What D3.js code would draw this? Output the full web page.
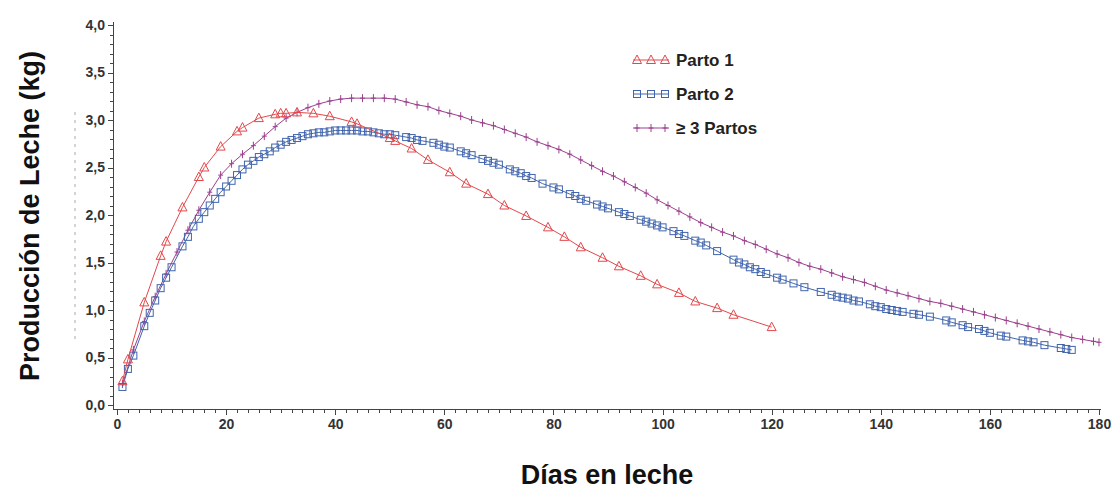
<!DOCTYPE html>
<meta charset="utf-8">
<style>
body { margin: 0; background: #fff; }
svg { font-family: "Liberation Sans", Arial, sans-serif; }
.axis text { font-size: 14px; font-weight: bold; fill: #333; }
.axis path, .axis line { fill: none; stroke: #444; shape-rendering: crispEdges; }
.title { font-weight: bold; font-size: 27px; fill: #111; }
.legend text { font-size: 17px; font-weight: bold; fill: #222; }
</style>
<body>
<script src="https://cdn.jsdelivr.net/npm/d3@7"></script>
<script>
// Parto 1 (red, triangles)
var diasP1 = [1,2,5,8,9,12,15,16,19,22,23,26,29,30,31,33,36,39,43,44,50,51,54,57,61,64,68,71,75,79,82,85,89,92,96,99,103,106,110,113,120];
var lecheP1 = [0.25,0.48,1.08,1.57,1.72,2.08,2.40,2.50,2.72,2.88,2.92,3.02,3.06,3.07,3.07,3.08,3.07,3.04,2.98,2.96,2.81,2.78,2.70,2.58,2.45,2.33,2.22,2.10,1.99,1.87,1.77,1.66,1.55,1.46,1.36,1.27,1.18,1.09,1.02,0.95,0.82];

// Parto 2 (blue, squares)
var diasP2 = [1,2,3,5,6,7,8,9,10,12,13,14,15,16,17,18,19,20,21,22,23,24,25,26,27,28,29,30,31,32,33,34,35,36,37,38,39,40,41,42,43,44,45,46,47,48,49,50,51,53,54,55,56,58,59,60,61,63,64,65,67,68,69,70,72,73,74,75,76,78,80,81,83,84,85,86,88,89,90,92,93,94,96,97,98,99,100,102,103,104,106,107,108,110,113,114,115,116,117,118,119,121,122,124,126,129,131,132,133,134,135,136,138,139,140,141,142,143,144,146,147,149,152,153,155,156,158,159,160,162,163,166,167,168,170,173,174,175];
var lecheP2 = [0.19,0.38,0.52,0.83,0.97,1.10,1.23,1.34,1.45,1.67,1.77,1.88,1.96,2.03,2.10,2.17,2.24,2.30,2.36,2.42,2.48,2.53,2.57,2.61,2.64,2.67,2.71,2.74,2.77,2.79,2.81,2.83,2.85,2.86,2.87,2.87,2.88,2.89,2.89,2.89,2.89,2.89,2.88,2.88,2.87,2.86,2.85,2.85,2.84,2.82,2.81,2.79,2.78,2.76,2.74,2.72,2.71,2.67,2.65,2.63,2.59,2.57,2.55,2.53,2.48,2.46,2.44,2.41,2.39,2.33,2.29,2.27,2.22,2.20,2.17,2.15,2.11,2.09,2.07,2.03,2.01,1.99,1.95,1.93,1.91,1.89,1.87,1.83,1.80,1.78,1.73,1.71,1.68,1.62,1.53,1.50,1.48,1.45,1.43,1.40,1.38,1.34,1.32,1.28,1.24,1.19,1.16,1.14,1.13,1.12,1.10,1.09,1.06,1.04,1.03,1.01,1.00,0.99,0.98,0.96,0.95,0.93,0.89,0.87,0.84,0.82,0.80,0.78,0.76,0.73,0.72,0.68,0.67,0.66,0.63,0.60,0.59,0.58];

// >= 3 Partos (purple, plus)
var diasP3 = [1,3,5,7,9,11,13,15,17,19,21,23,25,27,29,31,33,35,37,39,41,43,45,47,49,51,53,55,57,59,61,63,65,67,69,71,73,75,77,79,81,83,85,87,89,91,93,95,97,99,101,103,105,107,109,111,113,115,117,119,121,123,125,127,129,131,133,135,137,139,141,143,145,147,149,151,153,155,157,159,161,163,165,167,169,171,173,175,177,179,180];
var lecheP3 = [0.22,0.58,0.88,1.14,1.38,1.61,1.84,2.05,2.24,2.42,2.54,2.64,2.73,2.83,2.93,3.02,3.08,3.13,3.17,3.20,3.22,3.23,3.23,3.23,3.23,3.22,3.19,3.16,3.14,3.10,3.07,3.04,3.00,2.97,2.94,2.90,2.86,2.82,2.77,2.73,2.69,2.64,2.58,2.52,2.46,2.41,2.35,2.29,2.23,2.16,2.10,2.04,1.98,1.92,1.87,1.82,1.78,1.73,1.69,1.64,1.59,1.55,1.50,1.46,1.43,1.39,1.35,1.32,1.29,1.25,1.21,1.18,1.15,1.12,1.09,1.07,1.04,1.01,0.98,0.95,0.92,0.89,0.86,0.83,0.80,0.77,0.74,0.71,0.69,0.67,0.66];

var xTicks = [0,20,40,60,80,100,120,140,160,180];
var yTicks = [0,0.5,1,1.5,2,2.5,3,3.5,4];

var W = 1117, H = 491;
var svg = d3.select("body").append("svg").attr("width", W).attr("height", H);

var x = d3.scaleLinear().domain([0, 180]).range([117, 1099]);
var y = d3.scaleLinear().domain([0, 4]).range([405, 25]);

var fmt = function(d) { return d3.format(".1f")(d).replace(".", ","); };

// faint dashed scan mark left of the axis
svg.append("line").attr("x1", 75).attr("x2", 75).attr("y1", 112).attr("y2", 340)
  .attr("stroke", "#aaa").attr("stroke-dasharray", "3,5").attr("stroke-width", 1);

// y axis
var yAxis = svg.append("g").attr("class", "axis y").attr("transform", "translate(113,0)");
yAxis.call(d3.axisLeft(y).tickValues(d3.range(0, 4.001, 0.1)).tickSize(3).tickFormat(""));
yAxis.selectAll(".tick line").attr("stroke", "#666");
var yMaj = svg.append("g").attr("class", "axis y").attr("transform", "translate(113,0)")
  .call(d3.axisLeft(y).tickValues(yTicks).tickSize(5).tickPadding(3).tickFormat(fmt));
yMaj.select(".domain").attr("d", "M0," + 22 + "V" + 410);

// x axis
var xAxis = svg.append("g").attr("class", "axis x").attr("transform", "translate(0,409)");
xAxis.call(d3.axisBottom(x).tickValues(d3.range(0, 181, 2)).tickSize(4).tickFormat(""));
xAxis.select(".domain").attr("d", "M113,0H1101");
xAxis.selectAll(".tick line").attr("stroke", "#666");
svg.append("g").attr("class", "axis x").attr("transform", "translate(0,409)")
  .call(d3.axisBottom(x).tickValues(xTicks).tickSize(6).tickPadding(4))
  .select(".domain").remove();

// titles
svg.append("text").attr("class", "title")
  .attr("transform", "translate(30,216) rotate(-90)")
  .attr("text-anchor", "middle").attr("dominant-baseline", "central")
  .text("Producción de Leche (kg)");
svg.append("text").attr("class", "title")
  .attr("x", 607).attr("y", 484).attr("text-anchor", "middle")
  .text("Días en leche");

var series = [
  {name: "Parto 1", dias: diasP1, leche: lecheP1, color: "#e4474a", mark: "tri"},
  {name: "Parto 2", dias: diasP2, leche: lecheP2, color: "#4064ad", mark: "sq"},
  {name: "\u2265 3 Partos", dias: diasP3, leche: lecheP3, color: "#9b3f8e", mark: "plus"}
];

function drawMark(g, type, color) {
  if (type === "tri") {
    g.append("path").attr("d", "M0,-5L4.5,3.5L-4.5,3.5Z")
      .attr("fill", "none").attr("stroke", color).attr("stroke-width", 1);
  } else if (type === "sq") {
    g.append("rect").attr("x", -3.5).attr("y", -3.5).attr("width", 7).attr("height", 7)
      .attr("fill", "none").attr("stroke", color).attr("stroke-width", 1);
  } else {
    g.append("path").attr("d", "M0,-4V4M-2.5,0H2.5")
      .attr("fill", "none").attr("stroke", color).attr("stroke-width", 1);
  }
}

var line = d3.line().x(function(d) { return x(d[0]); }).y(function(d) { return y(d[1]); });

series.slice().reverse().forEach(function(s) {
  var pts = s.dias.map(function(d, i) { return [d, s.leche[i]]; });
  svg.append("path").datum(pts).attr("d", line)
    .attr("fill", "none").attr("stroke", s.color).attr("stroke-width", 1);
  svg.append("g").selectAll("g").data(pts).enter().append("g")
    .attr("transform", function(d) { return "translate(" + x(d[0]) + "," + y(d[1]) + ")"; })
    .each(function() { drawMark(d3.select(this), s.mark, s.color); });
});

// legend
var legend = svg.append("g").attr("class", "legend");
series.forEach(function(s, i) {
  var ly = 60 + i * 34;
  var g = legend.append("g").attr("transform", "translate(0," + ly + ")");
  g.append("line").attr("x1", 633).attr("x2", 669).attr("y1", 0).attr("y2", 0)
    .attr("stroke", s.color).attr("stroke-width", 1);
  [637, 651, 665].forEach(function(mx) {
    drawMark(g.append("g").attr("transform", "translate(" + mx + ",0)"), s.mark, s.color);
  });
  g.append("text").attr("x", 676).attr("y", 6).text(s.name);
});
</script>
</body>
